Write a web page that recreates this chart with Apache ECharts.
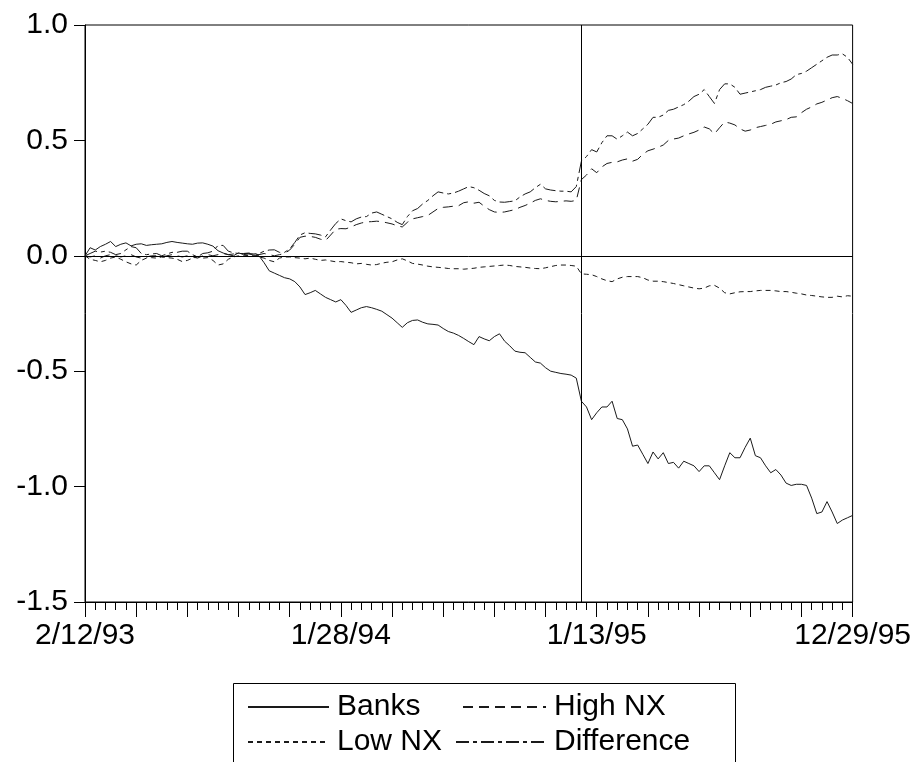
<!DOCTYPE html>
<html>
<head>
<meta charset="utf-8">
<script src="https://cdn.jsdelivr.net/npm/echarts@6/dist/echarts.min.js"></script>
<style>
html,body{margin:0;padding:0;background:#fff;}
#chart{width:914px;height:762px;}
</style>
</head>
<body>
<div id="chart"></div>
<script>
// Weekly observations, week 0 = 2/12/93 ... week 150 = 12/29/95
var weeks = [];
for (var i = 0; i <= 150; i++) weeks.push(i);

var xTickWeeks = [0, 50, 100, 150];
var xTickLabels = ['2/12/93', '1/28/94', '1/13/95', '12/29/95'];
var yTicks = [-1.5, -1.0, -0.5, 0.0, 0.5, 1.0];
var eventWeek = 97;
var zeroLevel = 0;

var seriesNames = ['Banks', 'High NX', 'Low NX', 'Difference'];

var banks = [
 0.00, 0.035, 0.025, 0.04, 0.05, 0.062, 0.04, 0.05, 0.056, 0.043,
 0.05, 0.052, 0.045, 0.048, 0.05, 0.052, 0.058, 0.062, 0.058, 0.055,
 0.052, 0.05, 0.055, 0.056, 0.05, 0.042, 0.022, 0.012, 0.005, 0.0,
 0.013, 0.005, 0.008, 0.003, 0.0, -0.03, -0.065, -0.075, -0.085, -0.095,
 -0.1, -0.112, -0.135, -0.168, -0.16, -0.15, -0.165, -0.18, -0.19, -0.2,
 -0.19, -0.215, -0.245, -0.235, -0.225, -0.22, -0.225, -0.232, -0.24, -0.255,
 -0.27, -0.29, -0.31, -0.29, -0.28, -0.278, -0.288, -0.295, -0.297, -0.30,
 -0.315, -0.328, -0.335, -0.345, -0.358, -0.372, -0.385, -0.35, -0.36, -0.368,
 -0.35, -0.338, -0.37, -0.39, -0.413, -0.418, -0.42, -0.44, -0.46, -0.465,
 -0.485, -0.5, -0.505, -0.51, -0.513, -0.517, -0.53, -0.63, -0.655, -0.71,
 -0.68, -0.655, -0.655, -0.63, -0.705, -0.71, -0.75, -0.825, -0.82, -0.86,
 -0.9, -0.85, -0.88, -0.853, -0.9, -0.895, -0.92, -0.89, -0.9, -0.91,
 -0.935, -0.91, -0.91, -0.94, -0.97, -0.91, -0.853, -0.875, -0.875, -0.83,
 -0.79, -0.866, -0.875, -0.91, -0.94, -0.926, -0.95, -0.985, -0.995, -0.99,
 -0.99, -0.995, -1.05, -1.117, -1.11, -1.065, -1.11, -1.16, -1.145, -1.135,
 -1.125
];

var highNX = [
 0.0, -0.005, 0.0, -0.01, 0.0, 0.005, 0.0, -0.005, 0.0, 0.005,
 -0.005, -0.01, -0.005, 0.0, 0.0, -0.005, 0.0, 0.005, 0.0, -0.005,
 0.0, -0.005, -0.01, 0.0, 0.005, 0.0, 0.005, 0.01, 0.005, 0.008,
 0.01, 0.01, 0.012, 0.008, 0.005, 0.01, 0.005, 0.0, 0.005, 0.01,
 0.025, 0.05, 0.08, 0.085, 0.084, 0.08, 0.072, 0.066, 0.09, 0.115,
 0.118, 0.117, 0.125, 0.135, 0.142, 0.147, 0.148, 0.15, 0.148, 0.143,
 0.138, 0.13, 0.125, 0.145, 0.16, 0.165, 0.17, 0.175, 0.19, 0.205,
 0.21, 0.212, 0.215, 0.217, 0.23, 0.234, 0.228, 0.232, 0.215, 0.2,
 0.19, 0.188, 0.19, 0.195, 0.2, 0.21, 0.218, 0.228, 0.24, 0.247,
 0.24, 0.236, 0.234, 0.236, 0.238, 0.236, 0.24, 0.33, 0.35, 0.377,
 0.36, 0.385, 0.40, 0.405, 0.407, 0.415, 0.42, 0.41, 0.418, 0.44,
 0.455, 0.462, 0.47, 0.48, 0.5, 0.506, 0.51, 0.52, 0.528, 0.535,
 0.545, 0.558, 0.55, 0.528, 0.555, 0.58, 0.575, 0.567, 0.55, 0.54,
 0.545, 0.555, 0.56, 0.565, 0.57, 0.58, 0.585, 0.59, 0.6, 0.602,
 0.62, 0.635, 0.645, 0.658, 0.665, 0.675, 0.685, 0.69, 0.682, 0.672,
 0.66
];

var lowNX = [
 0.0, -0.015, -0.02, -0.026, -0.02, -0.01, -0.005, -0.015, -0.026, -0.035,
 -0.04, -0.02, -0.01, -0.008, -0.01, -0.005, -0.008, -0.01, -0.015, -0.025,
 -0.02, -0.01, -0.005, -0.01, -0.008, -0.02, -0.04, -0.035, -0.015, -0.005,
 0.0, 0.0, 0.002, 0.0, -0.005, -0.01, -0.02, -0.026, -0.01, -0.005,
 -0.005, -0.008, -0.01, -0.013, -0.01, -0.015, -0.02, -0.018, -0.022, -0.026,
 -0.025, -0.028, -0.03, -0.035, -0.033, -0.037, -0.04, -0.038, -0.032, -0.028,
 -0.026, -0.018, -0.013, -0.022, -0.033, -0.036, -0.04, -0.045, -0.048, -0.05,
 -0.052, -0.055, -0.056, -0.056, -0.058, -0.056, -0.054, -0.05, -0.048, -0.046,
 -0.044, -0.042, -0.04, -0.042, -0.046, -0.048, -0.05, -0.053, -0.055, -0.056,
 -0.052, -0.047, -0.042, -0.04, -0.04, -0.042, -0.045, -0.078, -0.08, -0.082,
 -0.09, -0.1, -0.108, -0.112, -0.1, -0.093, -0.09, -0.09, -0.09, -0.095,
 -0.105, -0.11, -0.11, -0.112, -0.116, -0.12, -0.125, -0.13, -0.135, -0.14,
 -0.143, -0.14, -0.13, -0.128, -0.14, -0.16, -0.165, -0.16, -0.156, -0.155,
 -0.155, -0.152, -0.15, -0.15, -0.15, -0.152, -0.155, -0.155, -0.158, -0.162,
 -0.165, -0.17, -0.172, -0.175, -0.178, -0.18, -0.18, -0.175, -0.178, -0.173,
 -0.175
];

var difference = [
 0.0, 0.01, 0.02, 0.016, 0.02, 0.015, 0.005, 0.01, 0.026, 0.04,
 0.035, 0.01, 0.005, 0.008, 0.01, 0.0, 0.008, 0.015, 0.015, 0.02,
 0.02, 0.005, -0.005, 0.01, 0.013, 0.02, 0.045, 0.045, 0.02, 0.013,
 0.01, 0.01, 0.01, 0.008, 0.01, 0.02, 0.025, 0.026, 0.015, 0.015,
 0.03, 0.058, 0.09, 0.1, 0.097, 0.095, 0.09, 0.082, 0.112, 0.14,
 0.16, 0.152, 0.147, 0.16, 0.168, 0.17, 0.185, 0.19, 0.18, 0.17,
 0.16, 0.145, 0.135, 0.17, 0.195, 0.205, 0.225, 0.24, 0.26, 0.277,
 0.272, 0.268, 0.272, 0.28, 0.29, 0.3, 0.295, 0.284, 0.27, 0.26,
 0.24, 0.233, 0.232, 0.235, 0.238, 0.255, 0.268, 0.277, 0.295, 0.31,
 0.29, 0.285, 0.282, 0.28, 0.28, 0.277, 0.3, 0.41, 0.43, 0.46,
 0.45, 0.49, 0.52, 0.52, 0.505, 0.52, 0.536, 0.52, 0.53, 0.55,
 0.57, 0.6, 0.6, 0.61, 0.63, 0.635, 0.645, 0.655, 0.67, 0.69,
 0.7, 0.72, 0.69, 0.66, 0.72, 0.745, 0.745, 0.73, 0.70, 0.705,
 0.71, 0.715, 0.72, 0.73, 0.735, 0.74, 0.75, 0.755, 0.766, 0.785,
 0.79, 0.80, 0.815, 0.83, 0.845, 0.86, 0.87, 0.87, 0.875, 0.86,
 0.83
];

function pairs(vals) {
  return weeks.map(function (w, i) { return [w, vals[i]]; });
}

var FONT = '"Liberation Sans", Arial, Helvetica, sans-serif';
var INK = '#1a1a1a';

var dashStyles = {
  'Banks': 'solid',
  'High NX': [10, 6],
  'Low NX': [5, 4],
  'Difference': [13, 4, 4, 4]
};

var seriesData = [banks, highNX, lowNX, difference];

var series = seriesNames.map(function (name, k) {
  var s = {
    name: name,
    type: 'line',
    data: pairs(seriesData[k]),
    symbol: 'none',
    showSymbol: false,
    animation: false,
    lineStyle: { color: INK, width: 1, type: dashStyles[name] },
    itemStyle: { color: INK },
    z: 3
  };
  if (k === 0) {
    s.markLine = {
      silent: true,
      symbol: ['none', 'none'],
      label: { show: false },
      animation: false,
      lineStyle: { color: '#000', width: 1, type: 'solid' },
      data: [{ yAxis: zeroLevel }, { xAxis: eventWeek }]
    };
  }
  return s;
});

function legendItem(name, left, top, w) {
  return {
    data: [name],
    left: left,
    top: top,
    orient: 'horizontal',
    padding: 0,
    itemWidth: w,
    itemHeight: 14,
    selectedMode: false,
    itemStyle: { opacity: 0, borderWidth: 0 },
    lineStyle: { opacity: 1 },
    textStyle: { fontFamily: FONT, fontSize: 30, color: '#000', padding: [0, 0, 0, 3] }
  };
}

var option = {
  animation: false,
  backgroundColor: '#fff',
  grid: {
    left: 85, right: 58, top: 25, bottom: 160,
    show: true, borderColor: '#000', borderWidth: 1,
    containLabel: false
  },
  xAxis: {
    type: 'value',
    min: 0, max: 150, interval: 10,
    axisLine: { show: true, onZero: false, lineStyle: { color: '#000', width: 1 } },
    axisTick: { show: true, length: 15, lineStyle: { color: '#000', width: 1 } },
    minorTick: { show: true, splitNumber: 5, length: 8, lineStyle: { color: '#000', width: 1 } },
    splitLine: { show: false },
    minorSplitLine: { show: false },
    axisLabel: {
      margin: 19,
      fontFamily: FONT, fontSize: 30, color: '#000',
      showMinLabel: true, showMaxLabel: true,
      formatter: function (v) {
        var idx = xTickWeeks.indexOf(Math.round(v));
        return idx >= 0 ? xTickLabels[idx] : '';
      }
    }
  },
  yAxis: {
    type: 'value',
    min: yTicks[0], max: yTicks[yTicks.length - 1], interval: 0.5,
    axisLine: { show: true, onZero: false, lineStyle: { color: '#000', width: 1 } },
    axisTick: { show: true, length: 11, lineStyle: { color: '#000', width: 1 } },
    splitLine: { show: false },
    axisLabel: {
      margin: 17,
      fontFamily: FONT, fontSize: 30, color: '#000',
      formatter: function (v) { return v.toFixed(1); }
    }
  },
  legend: [
    legendItem('Banks', 247, 692, 81),
    legendItem('High NX', 462, 692, 83),
    legendItem('Low NX', 247, 727, 81),
    legendItem('Difference', 455, 727, 90)
  ],
  graphic: [{
    type: 'rect',
    silent: true,
    shape: { x: 233.5, y: 683.5, width: 502, height: 100 },
    style: { fill: 'none', stroke: '#000', lineWidth: 1 }
  }],
  series: series
};

var chart = echarts.init(document.getElementById('chart'), null, { renderer: 'canvas' });
chart.setOption(option);
</script>
</body>
</html>
